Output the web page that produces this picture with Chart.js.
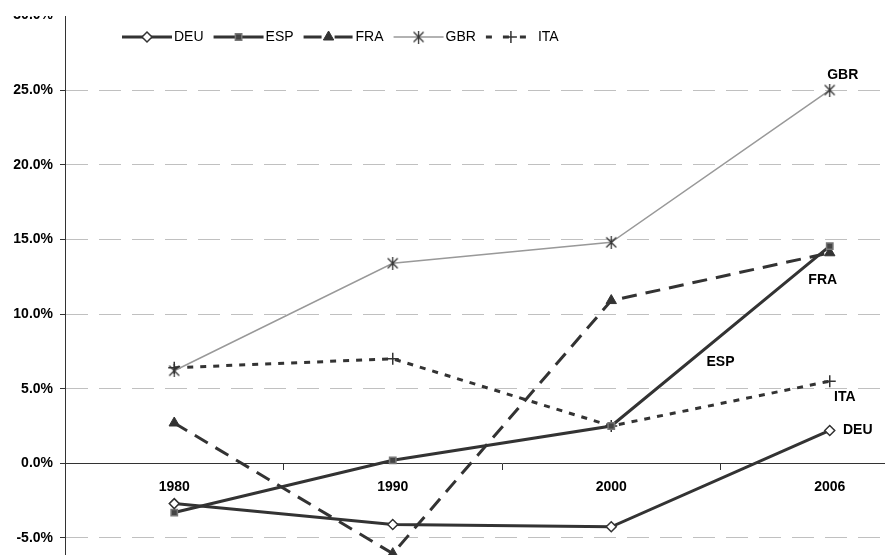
<!DOCTYPE html>
<html>
<head>
<meta charset="utf-8">
<script src="https://cdn.jsdelivr.net/npm/chart.js@4.4.0/dist/chart.umd.min.js"></script>
<style>
  html, body { margin: 0; padding: 0; background: #fff; }
  #wrap { width: 885px; height: 555px; overflow: hidden; position: relative; }
  #wrap canvas { position: absolute; left: 0; top: 0; }
</style>
</head>
<body>
<div id="wrap"><canvas id="grafico" width="950" height="628"></canvas></div>
<script>
const anos = ['1980', '1990', '2000', '2006'];
const deu = [-2.7, -4.1, -4.25, 2.2];
const esp = [-3.3, 0.2, 2.5, 14.55];
const fra = [2.7, -6.05, 10.9, 14.1];
const gbr = [6.2, 13.4, 14.8, 25.0];
const ita = [6.4, 7.0, 2.5, 5.5];
const ticksY = [-10, -5, 0, 5, 10, 15, 20, 25, 30];

const fuente = "'Liberation Sans', Arial, sans-serif";
const oscuro = '#333333';

// marcador asterisco tipo excel (X + linea vertical)
const estrella = document.createElement('canvas');
estrella.width = 13;
estrella.height = 13;
const cx = estrella.getContext('2d');
cx.strokeStyle = oscuro;
cx.lineWidth = 1.3;
cx.beginPath();
cx.moveTo(1.5, 1.5); cx.lineTo(11.5, 11.5);
cx.moveTo(11.5, 1.5); cx.lineTo(1.5, 11.5);
cx.moveTo(6.5, 0); cx.lineTo(6.5, 13);
cx.stroke();

// etiquetas de las series a la derecha (posicion en valores de los ejes)
const etiquetas = [
    { texto: 'GBR', serie: 3, i: 3, dx: 13, dy: -15 },
    { texto: 'FRA', serie: 2, i: 3, dx: -7, dy: 27 },
    { texto: 'ITA', serie: 4, i: 3, dx: 15, dy: 16 },
    { texto: 'DEU', serie: 0, i: 3, dx: 28, dy: 0 }
];

// trazos de la leyenda (en excel no son iguales a los de la linea)
const dashLeyenda = { FRA: [18, 13], ITA: [6, 11] };

const leyenda = {
    id: 'leyenda',
    afterDraw(chart) {
        const ctx = chart.ctx;
        // tapa la parte de arriba como en el original
        ctx.save();
        ctx.fillStyle = '#fff';
        ctx.fillRect(0, 0, chart.width, 16);
        ctx.restore();

        let x = 122;
        const y = 37;
        chart.data.datasets.forEach((ds) => {
            ctx.save();
            ctx.strokeStyle = ds.borderColor;
            ctx.lineWidth = ds.borderWidth;
            ctx.setLineDash(dashLeyenda[ds.label] || []);
            ctx.beginPath();
            ctx.moveTo(x, y);
            ctx.lineTo(x + 50, y);
            ctx.stroke();
            ctx.setLineDash([]);
            ctx.fillStyle = ds.pointBackgroundColor;
            ctx.strokeStyle = ds.pointBorderColor;
            ctx.lineWidth = ds.pointBorderWidth;
            Chart.helpers.drawPoint(ctx, {
                pointStyle: ds.pointStyle,
                radius: ds.pointRadius,
                borderWidth: ds.pointBorderWidth,
                rotation: 0
            }, x + 25, y);
            ctx.font = '14px ' + fuente;
            ctx.fillStyle = '#000';
            ctx.textBaseline = 'middle';
            ctx.fillText(ds.label, x + 52, y);
            x = x + 52 + ctx.measureText(ds.label).width + 10;
            ctx.restore();
        });
    },
    afterDatasetsDraw(chart) {
        const ctx = chart.ctx;
        const sx = chart.scales.x;
        const sy = chart.scales.y;
        ctx.save();
        ctx.font = 'bold 14px ' + fuente;
        ctx.fillStyle = '#000';
        ctx.textAlign = 'center';
        ctx.textBaseline = 'middle';
        etiquetas.forEach((e) => {
            const v = chart.data.datasets[e.serie].data[e.i];
            ctx.fillText(e.texto, sx.getPixelForValue(e.i) + e.dx, sy.getPixelForValue(v) + e.dy);
        });
        // ESP va en medio del tramo 2000-2006
        ctx.fillText('ESP', sx.getPixelForValue(2.5), sy.getPixelForValue(6.8));
        ctx.restore();
    }
};

const ctx = document.getElementById('grafico');
const grafico = new Chart(ctx, {
    type: 'line',
    data: {
        labels: anos,
        datasets: [
            {
                label: 'DEU', data: deu,
                borderColor: oscuro, borderWidth: 3,
                pointStyle: 'rectRot', pointRadius: 5,
                pointBackgroundColor: '#fff', pointBorderColor: oscuro, pointBorderWidth: 1.5
            },
            {
                label: 'ESP', data: esp,
                borderColor: oscuro, borderWidth: 3,
                pointStyle: 'rect', pointRadius: 4.5,
                pointBackgroundColor: '#444', pointBorderColor: '#777', pointBorderWidth: 1.5
            },
            {
                label: 'FRA', data: fra,
                borderColor: oscuro, borderWidth: 3, borderDash: [15, 9],
                pointStyle: 'triangle', pointRadius: 6,
                pointBackgroundColor: oscuro, pointBorderColor: oscuro, pointBorderWidth: 1
            },
            {
                label: 'GBR', data: gbr,
                borderColor: '#999999', borderWidth: 1.5,
                pointStyle: estrella, pointRadius: 6,
                pointBackgroundColor: oscuro, pointBorderColor: oscuro, pointBorderWidth: 1
            },
            {
                label: 'ITA', data: ita,
                borderColor: oscuro, borderWidth: 3, borderDash: [6, 7],
                pointStyle: 'cross', pointRadius: 6,
                pointBackgroundColor: oscuro, pointBorderColor: oscuro, pointBorderWidth: 1.5
            }
        ]
    },
    options: {
        responsive: false,
        animation: false,
        layout: { padding: { left: 0, right: 11, top: 3, bottom: 0 } },
        elements: { line: { tension: 0 } },
        plugins: {
            legend: { display: false },
            tooltip: { enabled: false }
        },
        scales: {
            x: {
                position: { y: 0 },
                offset: true,
                grid: {
                    offset: true,
                    drawOnChartArea: false,
                    tickLength: 6,
                    tickColor: oscuro,
                    color: oscuro
                },
                border: { color: oscuro, width: 1 },
                ticks: {
                    font: { family: fuente, size: 14, weight: 'bold' },
                    color: '#000',
                    padding: 9,
                    maxRotation: 0
                }
            },
            y: {
                min: -10,
                max: 30,
                afterBuildTicks: (s) => { s.ticks = ticksY.map(v => ({ value: v })); },
                afterFit: (s) => { s.width = 65; },
                grid: {
                    color: (c) => c.tick && c.tick.value === 0 ? 'rgba(0,0,0,0)' : '#c0c0c0',
                    tickColor: oscuro,
                    tickLength: 5,
                    lineWidth: 1
                },
                border: { color: oscuro, width: 1, dash: [22, 11] },
                ticks: {
                    font: { family: fuente, size: 14, weight: 'bold' },
                    color: '#000',
                    padding: 7,
                    callback: (v) => v.toFixed(1) + '%'
                }
            }
        }
    },
    plugins: [leyenda]
});
</script>
</body>
</html>
